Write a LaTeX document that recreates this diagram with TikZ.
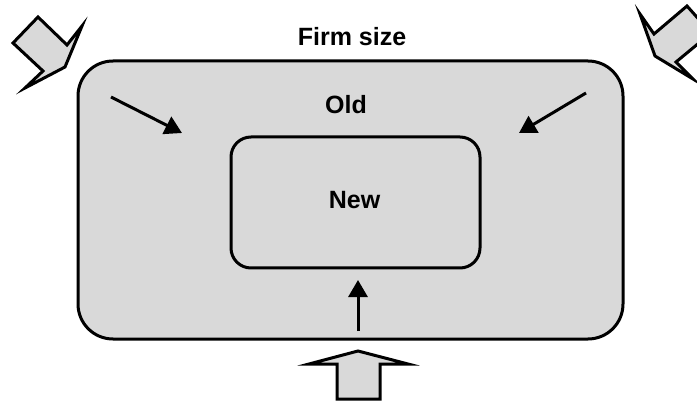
\documentclass[tikz,border=0pt]{standalone}
\usepackage{fontspec}
\setmainfont{Liberation Sans}
\usetikzlibrary{arrows.meta}
\definecolor{boxgray}{RGB}{217,217,217}
\tikzset{
  panel/.style={draw=black, fill=boxgray, line width=3pt, rectangle, inner sep=0pt},
  lbl/.style={font=\fontsize{25}{29}\selectfont\bfseries, anchor=base, inner sep=0pt},
  arr/.style={line width=3pt, -{Triangle[length=17pt,width=19pt]}},
  blockarrow/.style={draw=black, fill=boxgray, line width=3pt, line join=miter}
}
\begin{document}
\begin{tikzpicture}[x=1pt,y=-1pt]
\useasboundingbox (0,0) rectangle (697,401);
\begin{scope}
\clip (0,0) rectangle (697,401);
% block arrows
\draw[blockarrow] (38,17) -- (13,43) -- (43,71) -- (25,88) -- (65,67) -- (82,26) -- (67,45) -- cycle;
\draw[blockarrow] (687,6) -- (711,33) -- (676,62) -- (693,79) -- (655,56) -- (640,14) -- (654,34) -- cycle;
\draw[blockarrow] (337,399) -- (337,364) -- (309,364) -- (358,351) -- (408,364) -- (380,364) -- (380,399) -- cycle;
\end{scope}
% panels
\node[panel, rounded corners=35pt, minimum width=545pt, minimum height=278pt] (outer) at (350.5,200) {};
\node[panel, rounded corners=20pt, minimum width=249pt, minimum height=131pt] (inner) at (355.5,202.5) {};
% labels
\node[lbl] (title) at (352,46) {Firm size};
\node[lbl] (old) at (346,114) {Old};
\node[lbl] (new) at (354.5,209) {New};
% arrows
\coordinate (a1s) at (111,97);
\coordinate (a1e) at (182,133);
\coordinate (a2s) at (586,93);
\coordinate (a2e) at (519,133);
\coordinate (a3s) at (358,331);
\coordinate (a3e) at (358,280);
\draw[arr] (a1s) -- (a1e);
\draw[arr] (a2s) -- (a2e);
\draw[arr] (a3s) -- (a3e);
\end{tikzpicture}
\end{document}
